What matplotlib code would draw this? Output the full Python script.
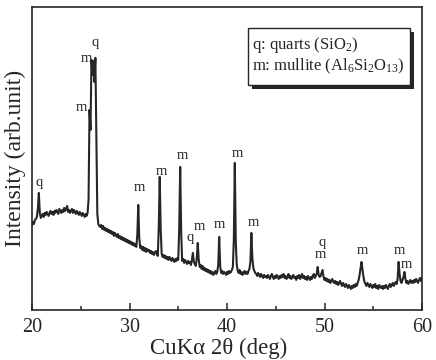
import numpy as np
import matplotlib
matplotlib.use("Agg")
import matplotlib.pyplot as plt
from matplotlib.patches import Rectangle
from matplotlib.ticker import MultipleLocator

plt.rcParams['font.family'] = ['Liberation Serif', 'DejaVu Serif']
plt.rcParams['mathtext.fontset'] = 'custom'
plt.rcParams['mathtext.rm'] = 'Liberation Serif'
plt.rcParams['mathtext.it'] = 'Liberation Serif:italic'

# XRD scan, 20-60 deg in 0.1 deg steps (counts in arbitrary units)
counts = [
    85, 88, 86, 90, 91, 93, 101, 117, 97, 92,      # 20
    94, 96, 93, 97, 95, 98, 96, 94, 97, 99,        # 21
    96, 98, 95, 99, 97, 100, 98, 96, 101, 99,      # 22
    97, 100, 98, 102, 99, 101, 104, 98, 100, 97,   # 23
    99, 101, 97, 100, 98, 96, 99, 97, 95, 98,      # 24
    96, 94, 97, 95, 93, 96, 94, 97, 110, 200,      # 25
    180, 250, 235, 249, 228, 252, 170, 96, 86, 84, # 26
    83, 85, 81, 84, 80, 82, 79, 81, 78, 80,        # 27
    77, 79, 76, 78, 74, 77, 75, 73, 76, 72,        # 28
    74, 71, 73, 70, 72, 69, 71, 68, 70, 67,        # 29
    69, 66, 68, 65, 67, 64, 66, 63, 75, 105,       # 30
    72, 62, 64, 60, 63, 59, 62, 58, 61, 59,        # 31
    60, 57, 59, 56, 58, 55, 57, 59, 56, 54,        # 32
    82, 133, 80, 56, 53, 55, 52, 54, 51, 53,       # 33
    50, 53, 51, 49, 52, 50, 48, 51, 49, 52,        # 34
    50, 82, 143, 78, 49, 51, 47, 50, 48, 46,       # 35
    49, 47, 48, 45, 50, 57, 48, 46, 44, 52,        # 36
    67, 50, 43, 45, 41, 44, 40, 42, 39, 41,        # 37
    38, 40, 37, 39, 36, 38, 35, 37, 39, 36,        # 38
    38, 45, 73, 44, 37, 39, 36, 38, 37, 35,        # 39
    38, 36, 39, 37, 38, 40, 43, 70, 147, 68,       # 40
    45, 39, 37, 40, 36, 38, 35, 37, 39, 36,        # 41
    38, 36, 39, 41, 48, 77, 52, 42, 39, 37,        # 42
    36, 34, 37, 35, 33, 36, 34, 32, 35, 33,        # 43
    34, 32, 35, 33, 31, 34, 36, 33, 31, 34,        # 44
    32, 35, 33, 31, 34, 32, 35, 33, 36, 32,        # 45
    34, 31, 33, 36, 32, 34, 31, 33, 35, 32,        # 46
    33, 30, 34, 32, 35, 31, 33, 36, 32, 34,        # 47
    31, 33, 30, 34, 32, 30, 33, 31, 34, 36,        # 48
    32, 34, 36, 43, 35, 33, 34, 37, 40, 33,        # 49
    30, 32, 29, 31, 28, 30, 27, 29, 31, 28,        # 50
    27, 29, 26, 28, 25, 27, 29, 26, 24, 27,        # 51
    25, 23, 26, 24, 22, 25, 23, 21, 24, 22,        # 52
    25, 23, 26, 24, 27, 30, 35, 42, 48, 40,        # 53
    33, 28, 26, 24, 27, 25, 23, 26, 24, 22,        # 54
    25, 23, 26, 22, 24, 21, 25, 23, 22, 24,        # 55
    21, 24, 22, 25, 23, 21, 24, 26, 23, 25,        # 56
    27, 24, 26, 28, 26, 31, 48, 36, 29, 27,        # 57
    30, 33, 38, 31, 27, 29, 26, 28, 30, 27,        # 58
    29, 27, 30, 28, 31, 29, 27, 30, 32, 29,        # 59
    32,                                            # 60
]
two_theta = 20 + 0.1 * np.arange(len(counts))

# phase labels above the peaks
label_text = ['q', 'q', 'm', 'm', 'm', 'm', 'm', 'q', 'm', 'm', 'm', 'm',
              'm', 'q', 'm', 'm', 'm']
label_theta = [20.7, 26.45, 25.6, 25.1, 31.0, 33.3, 35.45, 36.2, 37.15,
               39.2, 41.05, 42.75, 49.55, 49.8, 53.9, 57.7, 58.4]
label_y = [127, 267, 251, 202, 122, 138, 154, 72, 83, 85, 156, 87,
           55, 67, 59, 59, 45]

ink = '#262626'

fig = plt.figure(figsize=(4.36, 3.6), dpi=100)
ax = fig.add_axes([0.0734, 0.139, 0.8945, 0.842])

ax.plot(two_theta, counts, color=ink, linewidth=1.5)

for t, x, y in zip(label_text, label_theta, label_y):
    ax.text(x, y, t, ha='center', va='center', fontsize=10.5, color=ink)

ax.set_xlim(20, 60)
ax.set_ylim(0, 303)
ax.xaxis.set_major_locator(MultipleLocator(10))
ax.xaxis.set_minor_locator(MultipleLocator(5))
ax.tick_params(axis='x', which='both', direction='in', colors=ink,
               labelsize=14.5, pad=6)
ax.tick_params(axis='x', which='major', length=5, width=1.1)
ax.tick_params(axis='x', which='minor', length=3, width=1.1)
ax.set_yticks([])
for s in ax.spines.values():
    s.set_color(ink)
    s.set_linewidth(1.2)

ax.set_xlabel('CuK\u03b1 2\u03b8 (deg)', fontsize=16.5, color=ink)
ax.xaxis.set_label_coords(0.478, -0.092)
ax.set_ylabel('Intensity (arb.unit)', fontsize=17, color=ink, labelpad=4)

# phase key with a drop shadow
ax.add_patch(Rectangle((0.565, 0.730), 0.414, 0.188, transform=ax.transAxes,
                       facecolor=ink, edgecolor='none', zorder=3))
ax.add_patch(Rectangle((0.555, 0.743), 0.414, 0.188, transform=ax.transAxes,
                       facecolor='white', edgecolor=ink, linewidth=1.0,
                       zorder=4))
ax.text(0.565, 0.875, 'q: quarts (SiO$_2$)', transform=ax.transAxes,
        fontsize=12, va='center', color=ink, zorder=5)
ax.text(0.565, 0.802, 'm: mullite (Al$_6$Si$_2$O$_{13}$)',
        transform=ax.transAxes, fontsize=12, va='center', color=ink, zorder=5)

fig.savefig('out.png', dpi=100)
